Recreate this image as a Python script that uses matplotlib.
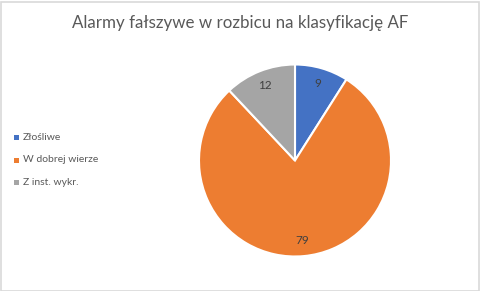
import matplotlib
matplotlib.use("Agg")
import matplotlib.pyplot as plt
from matplotlib.patches import Rectangle
import numpy as np

categories = ["Złośliwe", "W dobrej wierze", "Z inst. wykr."]
values = [9, 79, 12]
colors = ["#4472C4", "#ED7D31", "#A5A5A5"]

W, H = 480, 291
FONT = ["Lato", "DejaVu Sans"]
fig = plt.figure(figsize=(W / 100, H / 100), dpi=100, facecolor="white")

# frame around the chart area
fig.patches.append(Rectangle((0.5 / W, 0.5 / H), 1 - 2 / W, 1 - 2 / H,
                             transform=fig.transFigure, fill=False,
                             edgecolor="#D9D9D9", linewidth=1.2))

fig.text(0.5, 1 - 23 / H, "Alarmy fałszywe w rozbicu na klasyfikację AF",
         ha="center", va="center", fontsize=12.2, color="#595959", family=FONT)

# pie centred at (295, 160) px, radius ~95 px
r = 96
ax = fig.add_axes([(295 - r) / W, (H - 160.5 - r) / H, 2 * r / W, 2 * r / H])
wedges, _ = ax.pie(values, colors=colors, startangle=90, counterclock=False,
                   wedgeprops=dict(edgecolor="white", linewidth=1.5))
ax.set_aspect("equal")
ax.set_xlim(-1, 1)
ax.set_ylim(-1, 1)

total = sum(values)
start = 90.0
for v in values:
    mid = np.deg2rad(start - 360 * v / total / 2)
    start -= 360 * v / total
    rr = 0.84
    ax.text(rr * np.cos(mid), rr * np.sin(mid), str(v), ha="center", va="center",
            fontsize=8.5, color="#404040", family=FONT)

# legend on the left
for i, (name, c) in enumerate(zip(categories, colors)):
    y = 137.5 + i * 22.5
    fig.patches.append(Rectangle((14 / W, 1 - (y + 2.5) / H), 5 / W, 5 / H,
                                 transform=fig.transFigure, facecolor=c,
                                 edgecolor="none"))
    fig.text(23 / W, 1 - y / H, name, ha="left", va="center", fontsize=7.5,
             color="#595959", family=FONT)

fig.savefig("out.png", dpi=100, facecolor="white")
